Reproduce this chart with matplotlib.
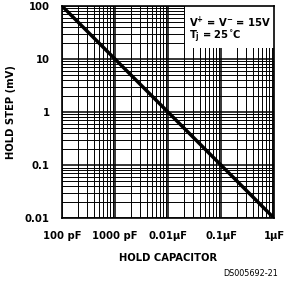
import matplotlib
matplotlib.use("Agg")
import matplotlib.pyplot as plt
from matplotlib.ticker import LogLocator, NullFormatter
from matplotlib.patches import Rectangle

# hold capacitor (F) vs hold step (mV)
hold_cap = [1e-10, 1e-9, 1e-8, 1e-7, 1e-6]
hold_step = [100, 10, 1, 0.1, 0.01]

x_ticks = [1e-10, 1e-9, 1e-8, 1e-7, 1e-6]
x_labels = ["100 pF", "1000 pF", "0.01μF", "0.1μF", "1μF"]
y_ticks = [0.01, 0.1, 1, 10, 100]
y_labels = ["0.01", "0.1", "1", "10", "100"]

plt.rcParams['font.family'] = ['DejaVu Sans']
plt.rcParams['font.stretch'] = 'condensed'
plt.rcParams['mathtext.fontset'] = 'custom'
plt.rcParams['mathtext.rm'] = 'DejaVu Sans:bold:stretch=condensed'
plt.rcParams['mathtext.it'] = 'DejaVu Sans:italic:stretch=condensed'
plt.rcParams['mathtext.bf'] = 'DejaVu Sans:bold:stretch=condensed'

fig = plt.figure(figsize=(2.85, 2.87), dpi=100)
ax = fig.add_axes([0.2175, 0.240, 0.744, 0.739])

ax.set_xscale("log")
ax.set_yscale("log")
ax.set_xlim(1e-10, 1e-6)
ax.set_ylim(0.01, 100)

ax.xaxis.set_minor_locator(LogLocator(base=10, subs=range(2, 10), numticks=20))
ax.yaxis.set_minor_locator(LogLocator(base=10, subs=range(2, 10), numticks=20))
ax.xaxis.set_minor_formatter(NullFormatter())
ax.yaxis.set_minor_formatter(NullFormatter())
ax.grid(True, which="major", color="black", linewidth=1.1)
ax.grid(True, which="minor", color="black", linewidth=0.7)
ax.tick_params(which="both", length=0)
ax.tick_params(axis="x", pad=9)
ax.tick_params(axis="y", pad=9)

ax.set_xticks(x_ticks)
ax.set_xticklabels(x_labels, fontsize=8, fontweight="bold")
ax.set_yticks(y_ticks)
ax.set_yticklabels(y_labels, fontsize=8, fontweight="bold")

for s in ax.spines.values():
    s.set_linewidth(1.2)
    s.set_zorder(8)

ax.plot(hold_cap, hold_step, color="black", linewidth=2.5, zorder=5)

# white legend box in the top right corner
ax.add_patch(Rectangle((0.58, 0.80), 0.42, 0.20, transform=ax.transAxes,
                       facecolor="white", edgecolor="none", zorder=6))
ax.text(0.60, 0.925, "V$^{+}$ = V$^{-}$ = 15V", transform=ax.transAxes,
        ha="left", va="center", fontsize=8, fontweight="bold", zorder=7)
ax.text(0.60, 0.853, "T$_{\\mathrm{j}}$ = 25$^{\\circ}$C", transform=ax.transAxes,
        ha="left", va="center", fontsize=8, fontweight="bold", zorder=7)

ax.set_xlabel("HOLD CAPACITOR", fontsize=8, fontweight="bold", labelpad=9)
ax.set_ylabel("HOLD STEP (mV)", fontsize=8, fontweight="bold", labelpad=6)

fig.text(0.975, 0.03, "DS005692-21", ha="right", va="bottom", fontsize=6.5)

fig.savefig("out.png", dpi=100)
